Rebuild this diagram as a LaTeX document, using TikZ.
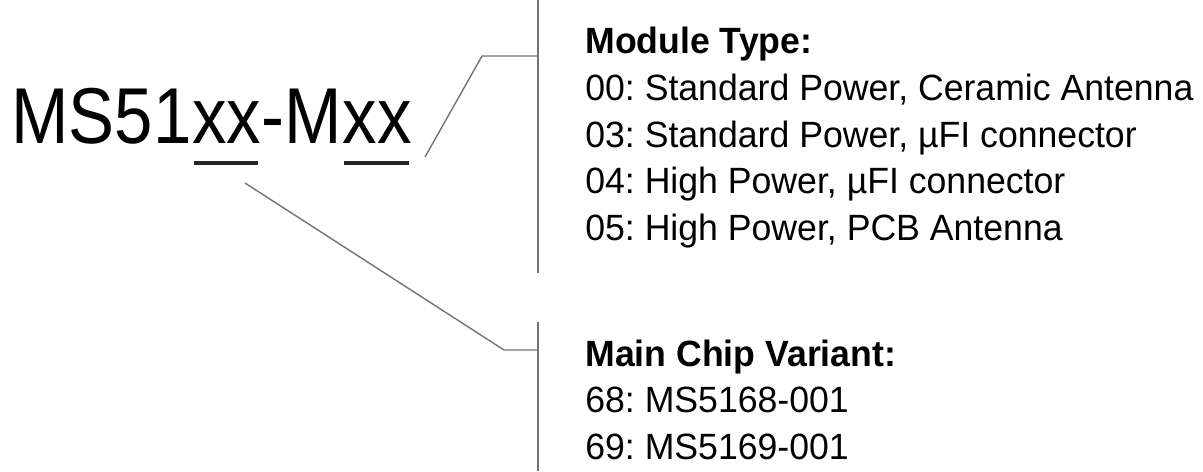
\documentclass[tikz,border=0pt]{standalone}
\usepackage{fontspec}
\setmainfont{Liberation Sans}
\newfontfamily\partfont[FakeStretch=0.87]{Liberation Sans}
\newfontfamily\entryfont[FakeStretch=0.975]{Liberation Sans}
\usetikzlibrary{positioning}

\tikzset{
    partno/.style={inner sep=0pt, anchor=base west, font=\partfont\fontsize{45.1}{50}\selectfont},
    entry/.style={inner sep=0pt, anchor=base west, font=\entryfont\fontsize{20.8}{26}\selectfont\frenchspacing},
    heading/.style={entry, font=\entryfont\fontsize{20.8}{26}\selectfont\bfseries\frenchspacing},
    uline/.style={line width=2.2pt, black!85, shorten <=1pt, shorten >=2pt},
    leader/.style={line width=0.8pt, black!55}
}

\begin{document}
\begin{tikzpicture}[x=0.02cm, y=-0.02cm]
    \useasboundingbox (0,0) rectangle (1203,471);

    % Part number
    \node[partno] (pre) at (11,143) {MS51};
    \node[partno] (chip) at (pre.base east) {xx};
    \node[partno] (mid) at (chip.base east) {-M};
    \node[partno] (type) at (mid.base east) {xx};

    % Underlines
    \draw[uline] ([yshift=-0.4cm]chip.base west) -- ([yshift=-0.4cm]chip.base east);
    \draw[uline] ([yshift=-0.4cm]type.base west) -- ([yshift=-0.4cm]type.base east);

    % Leader points
    \coordinate (tstart) at (425,157);
    \coordinate (tbend) at (482,56);
    \coordinate (ttop) at (538,0);
    \coordinate (tbot) at (538,273);
    \coordinate (cstart) at (245,183);
    \coordinate (cbend) at (504,350);
    \coordinate (ctop) at (538,322);
    \coordinate (cbot) at (538,471);

    % Draw leaders
    \draw[leader] (ttop) -- (tbot);
    \draw[leader] (tstart) -- (tbend) -- (tbend -| ttop);
    \draw[leader] (ctop) -- (cbot);
    \draw[leader] (cstart) -- (cbend) -- (cbend -| ctop);

    % Module type
    \node[heading] (mtitle) at (585,53) {Module Type:};
    \node[entry] (m00) at (585,100) {00: Standard Power, Ceramic Antenna};
    \node[entry] (m03) at (585,147) {03: Standard Power, µFI connector};
    \node[entry] (m04) at (585,193) {04: High Power, µFI connector};
    \node[entry] (m05) at (585,240) {05: High Power, PCB Antenna};

    % Chip variant
    \node[heading] (ctitle) at (585,366) {Main Chip Variant:};
    \node[entry] (c68) at (585,412) {68: MS5168-001};
    \node[entry] (c69) at (585,459) {69: MS5169-001};
\end{tikzpicture}
\end{document}
